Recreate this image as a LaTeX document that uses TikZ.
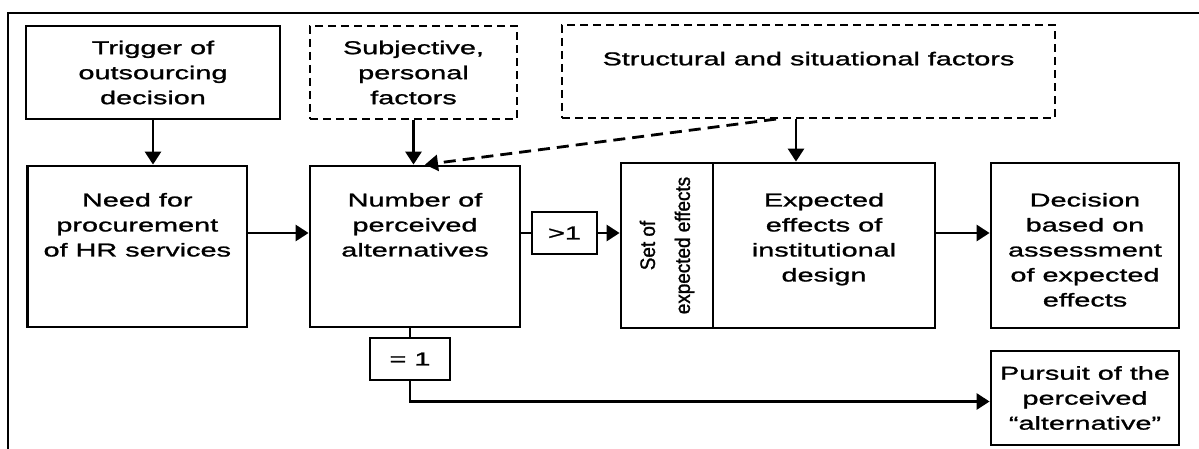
\documentclass[tikz,border=0pt]{standalone}
\usepackage{fontspec}
\setmainfont{Liberation Sans}[FakeStretch=1.55, FakeBold=1.2]
\newfontfamily\rotfont{Liberation Sans}[FakeStretch=0.9, FakeBold=1.2]
\usetikzlibrary{positioning,arrows.meta}

\tikzset{
  box/.style={draw, line width=1.4pt, inner sep=0pt},
  dbox/.style={draw, line width=1.1pt, dash pattern=on 4pt off 2.5pt, inner sep=0pt},
  txt/.style={align=center, inner sep=0pt, font=\fontsize{9.3}{12.5}\selectfont},
  rtxt/.style={align=center, inner sep=0pt, rotate=90, font=\rotfont\fontsize{10.5}{17.5}\selectfont},
  arr/.style={line width=1.4pt, -{Triangle[length=6.5pt,width=8pt]}},
  darr/.style={arr, dash pattern=on 6pt off 3.5pt},
}

\begin{document}
\begin{tikzpicture}[x=0.5pt,y=-0.5pt]
\useasboundingbox (0,0) rectangle (1199,449);
% frame
\draw[line width=1.4pt] (8,449) -- (8,13) -- (1199,13);

% top row
\node[box, txt, minimum width=127pt, minimum height=46.5pt] (trig) at (153,72.5) {Trigger of\\outsourcing\\decision};
\node[dbox, txt, minimum width=103.5pt, minimum height=46.5pt] (subj) at (413.5,72.5) {Subjective,\\personal\\factors};
\node[dbox, minimum width=246.5pt, minimum height=46.5pt] (struc) at (808.5,71.5) {};
\node[txt, below=13.75pt of struc.north] (struc-t) {Structural and situational factors};

% middle row
\node[box, minimum width=109.7pt, minimum height=80.5pt] (need) at (137.3,246.5) {};
\node[txt, below=14pt of need.north] (need-t) {Need for\\procurement\\of HR services};
\node[box, minimum width=105pt, minimum height=80.5pt] (num) at (415,246.5) {};
\node[txt, below=14pt of num.north] (num-t) {Number of\\perceived\\alternatives};
\node[box, txt, minimum width=32.5pt, minimum height=21pt] (gt1) at (564.5,233) {>1};
\node[box, minimum width=46pt, minimum height=82.5pt] (setb) at (667,245.5) {};
\node[rtxt] (setb-t) at (setb.center) {Set of\\expected effects};
\node[box, minimum width=111pt, minimum height=82.5pt] (expe) at (824,245.5) {};
\node[txt, below=15.5pt of expe.north] (expe-t) {Expected\\effects of\\institutional\\design};
\node[box, minimum width=94pt, minimum height=82.5pt] (deci) at (1085,245.5) {};
\node[txt, below=15.5pt of deci.north] (deci-t) {Decision\\based on\\assessment\\of expected\\effects};

% bottom row
\node[box, txt, minimum width=40pt, minimum height=21pt] (eq1) at (410,359) {= 1};
\node[box, txt, minimum width=94pt, minimum height=47pt] (purs) at (1085,398) {Pursuit of the\\perceived\\``alternative''};

% connectors
\draw[arr] (trig.south) -- (trig.south |- need.north);
\draw[arr] (subj.south) -- (subj.south |- num.north);
\draw[arr] ([xshift=-6.25pt]struc.south) -- ([xshift=-6.25pt]struc.south |- expe.north);
\draw[darr] ([xshift=-16.25pt]struc.south) -- ([xshift=5pt]num.north);
\draw[arr] ([yshift=6.75pt]need.east) -- ([yshift=6.75pt]need.east -| num.west);
\draw[line width=1.4pt] (gt1.west -| num.east) -- (gt1.west);
\draw[arr] (gt1.east) -- (gt1.east -| setb.west);
\draw[arr] ([yshift=6.25pt]expe.east) -- ([yshift=6.25pt]expe.east -| deci.west);
\draw[line width=1.4pt] (eq1.north |- num.south) -- (eq1.north);
\draw[arr] (eq1.south) |- ([yshift=-1.75pt]purs.west);
\end{tikzpicture}
\end{document}
